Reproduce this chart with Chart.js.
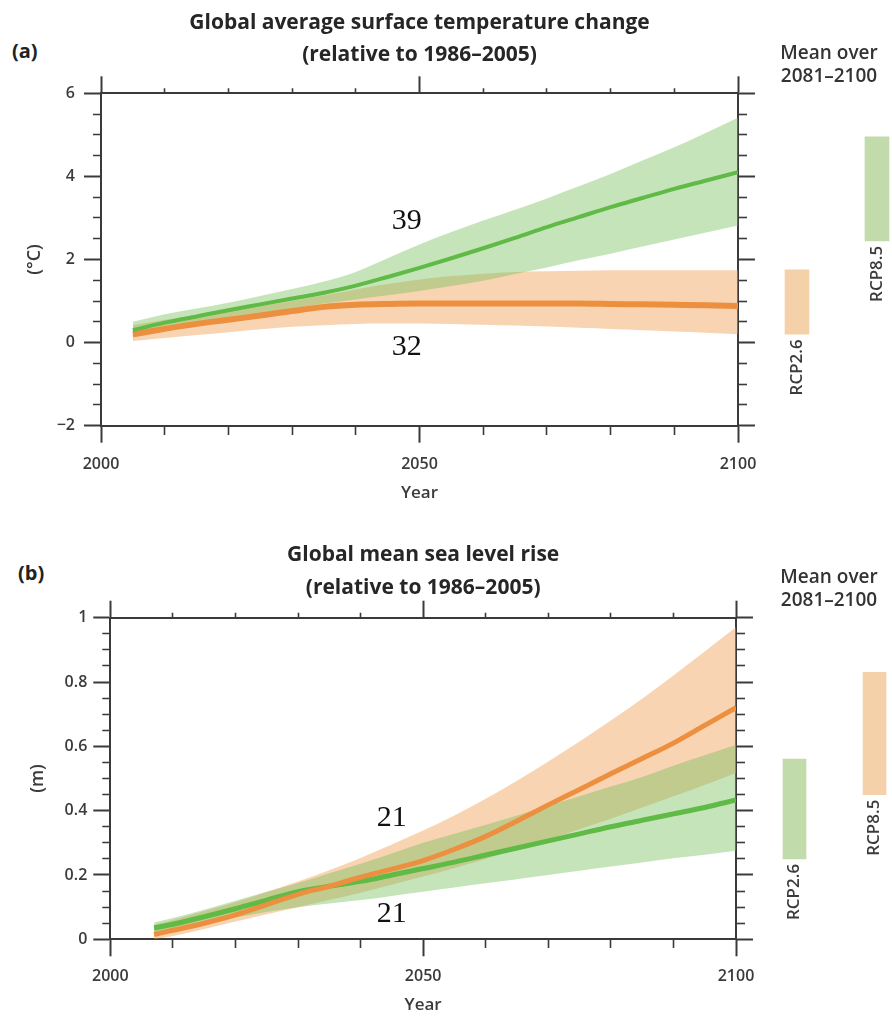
<!DOCTYPE html>
<html>
<head>
<meta charset="utf-8">
<script src="https://cdn.jsdelivr.net/npm/chart.js@4.4.1/dist/chart.umd.min.js"></script>
<style>
  html, body { margin:0; padding:0; background:#fff; width:892px; height:1026px; overflow:hidden; }
  canvas { position:absolute; }
  .tag { position:absolute; font:bold 20px "Open Sans", sans-serif; color:#222; line-height:24px; }
</style>
</head>
<body>
<div class="tag" style="left:12px; top:39px;">(a)</div>
<div class="tag" style="left:18px; top:561px;">(b)</div>
<canvas id="mainA" width="760" height="510" style="left:0; top:0;"></canvas>
<canvas id="barA" width="126" height="510" style="left:766px; top:0;"></canvas>
<canvas id="mainB" width="760" height="496" style="left:0; top:530px;"></canvas>
<canvas id="barB" width="126" height="496" style="left:766px; top:530px;"></canvas>
<script>
// ---------------- DATA ----------------
const scenarios = ['RCP2.6', 'RCP8.5'];

// (a) Global average surface temperature change (°C)
const yearsTemp = [2005,2010,2015,2020,2025,2030,2035,2040,2045,2050,2055,2060,2065,2070,2075,2080,2085,2090,2095,2100];
const rcp85TempMean = [0.30,0.48,0.63,0.78,0.92,1.06,1.20,1.37,1.58,1.80,2.03,2.27,2.52,2.78,3.02,3.26,3.48,3.70,3.90,4.10];
const rcp85TempHigh = [0.50,0.68,0.82,0.96,1.12,1.29,1.47,1.70,2.03,2.36,2.66,2.94,3.20,3.47,3.76,4.06,4.38,4.70,5.05,5.41];
const rcp85TempLow  = [0.12,0.28,0.42,0.56,0.70,0.82,0.94,1.04,1.14,1.24,1.36,1.49,1.65,1.81,1.98,2.14,2.31,2.48,2.65,2.82];
const rcp26TempMean = [0.20,0.33,0.45,0.55,0.65,0.76,0.86,0.91,0.93,0.94,0.94,0.94,0.94,0.94,0.94,0.93,0.92,0.91,0.90,0.88];
const rcp26TempHigh = [0.42,0.55,0.66,0.77,0.88,1.00,1.14,1.28,1.41,1.52,1.60,1.66,1.70,1.72,1.73,1.74,1.74,1.74,1.74,1.74];
const rcp26TempLow  = [0.04,0.11,0.18,0.25,0.32,0.38,0.42,0.45,0.46,0.46,0.45,0.43,0.41,0.39,0.36,0.33,0.30,0.27,0.24,0.20];
const tempBarLow  = [0.20, 2.45];   // RCP2.6, RCP8.5 (mean over 2081–2100)
const tempBarHigh = [1.75, 4.95];
const tempModelYears  = [2048, 2048];
const tempModelValues = [2.92, -0.11];
const tempModelCounts = ['39', '32'];

// (b) Global mean sea level rise (m)
const yearsSea = [2007,2010,2015,2020,2025,2030,2035,2040,2045,2050,2055,2060,2065,2070,2075,2080,2085,2090,2095,2100];
const rcp26SeaMean = [0.035,0.047,0.070,0.095,0.122,0.148,0.165,0.180,0.200,0.220,0.240,0.262,0.284,0.306,0.328,0.350,0.370,0.390,0.410,0.433];
const rcp26SeaHigh = [0.052,0.066,0.092,0.120,0.148,0.175,0.205,0.235,0.267,0.300,0.328,0.356,0.385,0.415,0.445,0.475,0.505,0.540,0.572,0.605];
const rcp26SeaLow  = [0.018,0.028,0.048,0.068,0.085,0.100,0.111,0.122,0.135,0.148,0.161,0.174,0.187,0.200,0.213,0.226,0.239,0.252,0.263,0.275];
const rcp85SeaMean = [0.015,0.028,0.050,0.076,0.108,0.140,0.165,0.193,0.218,0.245,0.280,0.320,0.368,0.418,0.466,0.515,0.562,0.610,0.665,0.720];
const rcp85SeaHigh = [0.045,0.060,0.088,0.115,0.147,0.180,0.215,0.253,0.295,0.338,0.385,0.437,0.493,0.553,0.615,0.680,0.748,0.820,0.895,0.970];
const rcp85SeaLow  = [0.000,0.010,0.032,0.055,0.078,0.100,0.122,0.145,0.170,0.195,0.222,0.250,0.280,0.310,0.342,0.375,0.410,0.445,0.480,0.517];
const seaBarLow  = [0.25, 0.45];
const seaBarHigh = [0.56, 0.83];
const seaModelYears  = [2045, 2045];
const seaModelValues = [0.376, 0.079];
const seaModelCounts = ['21', '21'];

// ---------------- STYLE ----------------
Chart.defaults.font.family = '"Open Sans", "DejaVu Sans", sans-serif';
Chart.defaults.color = '#333';
const AXIS = '#3a3a3a';
const GREEN_LINE = '#5fba46';
const ORANGE_LINE = '#ec9040';
const GREEN_BAND = 'rgba(120,190,90,0.42)';
const ORANGE_BAND = 'rgba(240,160,85,0.45)';
const GREEN_BAR = '#c1dcaa';
const ORANGE_BAR = '#f5d1aa';

const pts = (xs, ys) => xs.map((x, i) => ({x: x, y: ys[i]}));
const lineDs = (xs, ys, color, w) => ({data: pts(xs, ys), borderColor: color, borderWidth: w, pointRadius: 0,
  fill: false, cubicInterpolationMode: 'monotone', borderCapStyle: 'butt', borderJoinStyle: 'round'});
const upperDs = (xs, ys, color) => ({data: pts(xs, ys), borderColor: 'rgba(0,0,0,0)', borderWidth: 0, pointRadius: 0,
  fill: '+1', backgroundColor: color, cubicInterpolationMode: 'monotone'});
const lowerDs = (xs, ys) => ({data: pts(xs, ys), borderColor: 'rgba(0,0,0,0)', borderWidth: 0, pointRadius: 0,
  fill: false, cubicInterpolationMode: 'monotone'});

function tickGrid(isMajor, outerStart, minorLen, majorLen) {
  return {
    display: true, drawOnChartArea: false, drawTicks: true,
    tickLength: majorLen, tickColor: AXIS,
    tickWidth: c => (c.tick && isMajor(c.tick.value)) ? 2 : 1.6,
    tickBorderDash: c => (!c.tick || isMajor(c.tick.value)) ? [] :
      (outerStart ? [0, majorLen - minorLen, minorLen, 300] : [minorLen, 300])
  };
}
const border = {display: true, color: AXIS, width: 2};
const isXMajor = v => Math.abs(v / 50 - Math.round(v / 50)) < 1e-6;
const noPad = s => { s.paddingLeft = 0; s.paddingRight = 0; s.paddingTop = 0; s.paddingBottom = 0; };

function numberLabelPlugin(years, values, texts) {
  return {
    id: 'numberLabels',
    afterDatasetsDraw(chart) {
      const ctx = chart.ctx, xs = chart.scales.x, ys = chart.scales.y;
      ctx.save();
      ctx.font = '30px "Liberation Serif", "Times New Roman", serif';
      ctx.fillStyle = '#111';
      ctx.textAlign = 'center';
      ctx.textBaseline = 'middle';
      texts.forEach((t, i) => ctx.fillText(t, xs.getPixelForValue(years[i]), ys.getPixelForValue(values[i])));
      ctx.restore();
    }
  };
}

function makeMain(id, P) {
  const chart = new Chart(document.getElementById(id), {
    type: 'line',
    data: {datasets: P.datasets},
    options: {
      responsive: false, animation: false, events: [],
      layout: {padding: {left: 0, right: 0, top: 0, bottom: P.padBottom}},
      plugins: {
        legend: {display: false}, tooltip: {enabled: false},
        filler: {drawTime: 'beforeDatasetsDraw', propagate: false},
        title: {display: true, fullSize: false, text: P.title, color: '#262626',
          font: {size: 21, weight: 'bold', lineHeight: 1.55},
          padding: {top: P.titlePadTop, bottom: 0}}
      },
      scales: {
        x: {type: 'linear', position: 'bottom', min: 2000, max: 2100, z: 1,
          ticks: {stepSize: 10, autoSkip: false, maxRotation: 0, padding: P.xTickPad, color: '#3b3b3b',
            font: {size: 16, weight: '600'}, callback: v => isXMajor(v) ? String(v) : ''},
          grid: tickGrid(isXMajor, false, 8, 17), border: border,
          title: {display: true, text: 'Year', color: '#3b3b3b', font: {size: 17, weight: '600', lineHeight: 1.2},
            padding: {top: 0, bottom: P.yearPad}},
          afterFit: s => { s.height = P.bottomH; noPad(s); }},
        xTop: {type: 'linear', axis: 'x', position: 'top', min: 2000, max: 2100, z: 1,
          ticks: {display: false, stepSize: 10, autoSkip: false},
          grid: tickGrid(isXMajor, true, 5, 17), border: border,
          afterFit: s => { s.height = P.topH; noPad(s); }},
        y: {type: 'linear', position: 'left', min: P.yMin, max: P.yMax, z: 1,
          ticks: {stepSize: P.yStep, autoSkip: false, padding: P.yTickPad, color: '#3b3b3b',
            font: {size: 16, weight: '600'}, callback: v => P.isYMajor(v) ? P.fmtY(v) : ''},
          grid: tickGrid(P.isYMajor, true, 8, 17), border: border,
          title: {display: true, text: P.yTitle, color: '#3b3b3b', font: {size: 18, weight: '600', lineHeight: 1.2},
            padding: {top: P.yTitlePad, bottom: 0}},
          afterFit: s => { s.width = P.leftW; noPad(s); }},
        yRight: {type: 'linear', axis: 'y', position: 'right', min: P.yMin, max: P.yMax, z: 1,
          ticks: {display: false, stepSize: P.yStep, autoSkip: false},
          grid: tickGrid(P.isYMajor, false, 8, 17), border: border,
          afterFit: s => { s.width = P.rightW; noPad(s); }}
      }
    },
    plugins: [numberLabelPlugin(P.labelYears, P.labelValues, P.labelTexts)]
  });
  const d = P.desiredTop - chart.chartArea.top;
  if (Math.abs(d) > 0.05) { P.topH += d; chart.update('none'); }
  return chart;
}

const barLabelPlugin = {
  id: 'barLabels',
  afterDatasetsDraw(chart) {
    const ctx = chart.ctx;
    const meta = chart.getDatasetMeta(0);
    ctx.save();
    ctx.font = '600 17px "Open Sans", sans-serif';
    ctx.fillStyle = '#3b3b3b';
    ctx.textAlign = 'right';
    ctx.textBaseline = 'middle';
    meta.data.forEach((el, i) => {
      const p = el.getProps(['x', 'y', 'base'], true);
      const bottom = Math.max(p.y, p.base);
      ctx.save();
      ctx.translate(p.x, bottom + 5);
      ctx.rotate(-Math.PI / 2);
      ctx.fillText(chart.data.labels[i], 0, 0);
      ctx.restore();
    });
    ctx.restore();
  }
};

function makeBar(id, B, main) {
  const hidden = {display: true, grid: {display: false}, border: {display: false}, ticks: {display: false}};
  const chart = new Chart(document.getElementById(id), {
    type: 'bar',
    data: {labels: scenarios, datasets: [{
      data: B.low.map((l, i) => [l, B.high[i]]),
      backgroundColor: B.colors, borderWidth: 0, barThickness: B.barW, clip: false}]},
    options: {
      responsive: false, animation: false, events: [],
      layout: {padding: {top: 0, bottom: 0, left: 0, right: 0}},
      plugins: {
        legend: {display: false}, tooltip: {enabled: false},
        title: {display: true, text: ['Mean over', '2081\u20132100'], color: '#333',
          font: {size: 19, weight: '600', lineHeight: 1.2}, padding: {top: B.titlePadTop, bottom: 0}}
      },
      scales: {
        x: {type: 'category', display: false, offset: false},
        y: Object.assign({position: 'left', min: B.yMin, max: B.yMax, afterFit: s => { s.width = B.leftW; noPad(s); }}, hidden),
        y2: Object.assign({axis: 'y', position: 'right', min: B.yMin, max: B.yMax, afterFit: s => { s.width = B.rightW; noPad(s); }}, hidden)
      }
    },
    plugins: [barLabelPlugin]
  });
  const dTop = main.chartArea.top - chart.chartArea.top;
  const dBottom = chart.chartArea.bottom - main.chartArea.bottom;
  chart.options.plugins.title.padding = {top: B.titlePadTop, bottom: Math.max(0, dTop)};
  chart.options.layout.padding = {top: 0, bottom: Math.max(0, dBottom), left: 0, right: 0};
  chart.update('none');
  return chart;
}

// ---------------- PANEL (a) ----------------
const mainA = makeMain('mainA', {
  datasets: [
    lineDs(yearsTemp, rcp85TempMean, GREEN_LINE, 4),
    lineDs(yearsTemp, rcp26TempMean, ORANGE_LINE, 6),
    upperDs(yearsTemp, rcp85TempHigh, GREEN_BAND),
    lowerDs(yearsTemp, rcp85TempLow),
    upperDs(yearsTemp, rcp26TempHigh, ORANGE_BAND),
    lowerDs(yearsTemp, rcp26TempLow)
  ],
  title: ['Global average surface temperature change', '(relative to 1986\u20132005)'],
  titlePadTop: 6.5, topH: 17.7, desiredTop: 93.3,
  bottomH: 80, padBottom: 4.3, leftW: 101, rightW: 22,
  xTickPad: 12.5, yearPad: 2.5, yTickPad: 9, yTitlePad: 24.2,
  yMin: -2, yMax: 6, yStep: 0.5,
  isYMajor: v => Math.abs(v / 2 - Math.round(v / 2)) < 1e-6,
  fmtY: v => v < 0 ? '\u2212' + Math.abs(v) : String(v),
  yTitle: '(\u00B0C)',
  labelYears: tempModelYears, labelValues: tempModelValues, labelTexts: tempModelCounts
});
makeBar('barA', {low: tempBarLow, high: tempBarHigh, colors: [ORANGE_BAR, GREEN_BAR], barW: 24,
  yMin: -2, yMax: 6, leftW: 31, rightW: 15, titlePadTop: 42.6}, mainA);

// ---------------- PANEL (b) ----------------
const mainB = makeMain('mainB', {
  datasets: [
    lineDs(yearsSea, rcp85SeaMean, ORANGE_LINE, 5),
    lineDs(yearsSea, rcp26SeaMean, GREEN_LINE, 5),
    upperDs(yearsSea, rcp26SeaHigh, GREEN_BAND),
    lowerDs(yearsSea, rcp26SeaLow),
    upperDs(yearsSea, rcp85SeaHigh, ORANGE_BAND),
    lowerDs(yearsSea, rcp85SeaLow)
  ],
  title: ['Global mean sea level rise', '(relative to 1986\u20132005)'],
  titlePadTop: 8.7, topH: 14, desiredTop: 87.7,
  bottomH: 80, padBottom: 6.7, leftW: 110.3, rightW: 24,
  xTickPad: 11, yearPad: 4.1, yTickPad: 6, yTitlePad: 27.2,
  yMin: 0, yMax: 1, yStep: 0.05,
  isYMajor: v => Math.abs(v * 5 - Math.round(v * 5)) < 1e-6,
  fmtY: v => String(Math.round(v * 10) / 10),
  yTitle: '(m)',
  labelYears: seaModelYears, labelValues: seaModelValues, labelTexts: seaModelCounts
});
makeBar('barB', {low: seaBarLow, high: seaBarHigh, colors: [GREEN_BAR, ORANGE_BAR], barW: 23,
  yMin: 0, yMax: 1, leftW: 28.5, rightW: 17.5, titlePadTop: 36.6}, mainB);
</script>
</body>
</html>
